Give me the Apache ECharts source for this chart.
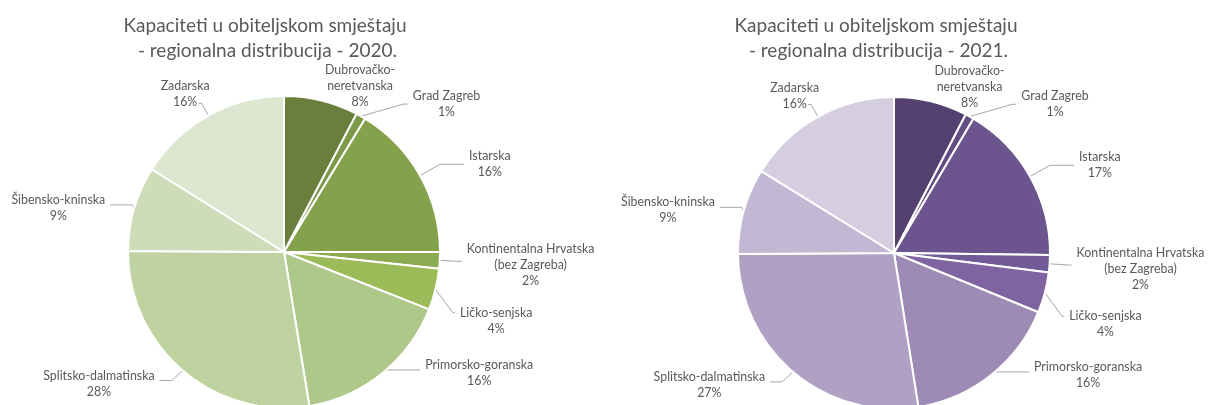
<!DOCTYPE html>
<html>
<head>
<meta charset="utf-8">
<script src="https://cdn.jsdelivr.net/npm/echarts@6/dist/echarts.min.js"></script>
<style>
html,body{margin:0;padding:0;background:#fff;}
#chart{width:1208px;height:405px;}
</style>
</head>
<body>
<div id="chart"></div>
<script>
const categories = [
  'Dubrovačko-\nneretvanska',
  'Grad Zagreb',
  'Istarska',
  'Kontinentalna Hrvatska\n(bez Zagreba)',
  'Ličko-senjska',
  'Primorsko-goranska',
  'Splitsko-dalmatinska',
  'Šibensko-kninska',
  'Zadarska'
];
const values2020 = [7.7, 1.0, 16.3, 1.7, 4.3, 16.4, 27.7, 8.8, 16.1];
const values2021 = [7.6, 0.9, 16.7, 1.8, 4.2, 16.3, 27.4, 8.9, 16.2];
const title2020 = 'Kapaciteti u obiteljskom smještaju\n - regionalna distribucija - 2020.';
const title2021 = 'Kapaciteti u obiteljskom smještaju\n - regionalna distribucija - 2021.';
const greens = ['#6a7f3b', '#7c9947', '#84a24c', '#8cab50', '#9bbb59', '#aec88a', '#bed3a0', '#cfdcba', '#dde6cf'];
const purples = ['#54416f', '#634d84', '#6c558e', '#735a98', '#8064a2', '#9d8ab5', '#b0a1c4', '#c3b8d3', '#d5cee0'];

const FONT = 'Lato';
const LABEL_SIZE = 12.4;
// leader-line lengths and small label nudges (per label, same for both pies)
const LABEL_CFG = [
  { len: 15, len2: 0,  dx: -5, dy: 0,  lineDy: 0,  elbowDx: 0,  line: false },
  { len: 14, len2: 40, dx: 0,  dy: 0,  lineDy: 0,  elbowDx: 36, line: true },
  { len: 23, len2: 24, dx: 0,  dy: 0,  lineDy: 0,  elbowDx: 0,  line: true },
  { len: 18, len2: 4,  dx: 0,  dy: 4,  lineDy: 0,  elbowDx: 0,  line: true },
  { len: 18, len2: 2,  dx: 0,  dy: 27, lineDy: 19, elbowDx: 0,  line: true },
  { len: 2,  len2: 37, dx: 0,  dy: -2, lineDy: -5, elbowDx: 0,  line: true },
  { len: 17, len2: 12, dx: 0,  dy: 0,  lineDy: -3, elbowDx: 0,  line: true },
  { len: 2,  len2: 22, dx: 0,  dy: 0,  lineDy: -3, elbowDx: 0,  line: true },
  { len: 14, len2: 3,  dx: 16, dy: -9, lineDy: 0,  elbowDx: 0,  line: true }
];

function mkData(vals, cols) {
  return categories.map((c, i) => ({
    name: c,
    value: vals[i],
    itemStyle: { color: cols[i] },
    labelLine: { show: LABEL_CFG[i].line, length: LABEL_CFG[i].len, length2: LABEL_CFG[i].len2 }
  }));
}
function labelLayout(p) {
  const cfg = LABEL_CFG[p.dataIndex];
  const out = { dx: cfg.dx, dy: cfg.dy };
  if (p.labelLinePoints && (cfg.lineDy || cfg.elbowDx)) {
    const pts = p.labelLinePoints.map(q => q.slice());
    pts[1][1] += cfg.lineDy;
    pts[2][1] += cfg.lineDy;
    pts[1][0] += cfg.elbowDx;
    out.labelLinePoints = pts;
  }
  return out;
}
function mkSeries(vals, cols, center) {
  return {
    type: 'pie',
    center: center,
    radius: 156,
    startAngle: 90,
    clockwise: true,
    percentPrecision: 0,
    avoidLabelOverlap: false,
    itemStyle: { borderColor: '#ffffff', borderWidth: 2 },
    label: {
      show: true,
      position: 'outside',
      overflow: 'none',
      distanceToLabelLine: 5,
      formatter: '{c|{b}}\n{c|{d}%}',
      color: '#595959',
      fontFamily: FONT,
      fontSize: LABEL_SIZE,
      lineHeight: 16,
      rich: { c: { align: 'center', color: '#595959', fontFamily: FONT, fontSize: LABEL_SIZE, lineHeight: 16 } }
    },
    labelLine: { show: true, lineStyle: { color: '#a6a6a6', width: 1 } },
    labelLayout: labelLayout,
    emphasis: { disabled: true },
    animation: false,
    data: mkData(vals, cols)
  };
}
const titleStyle = { fontFamily: FONT, fontSize: 19, fontWeight: 'normal', color: '#595959', lineHeight: 25 };
const chart = echarts.init(document.getElementById('chart'), null, { renderer: 'canvas' });
chart.setOption({
  backgroundColor: '#ffffff',
  animation: false,
  title: [
    { text: title2020, left: 260, top: 8, textAlign: 'center', textStyle: titleStyle },
    { text: title2021, left: 871, top: 8, textAlign: 'center', textStyle: titleStyle }
  ],
  series: [
    mkSeries(values2020, greens, [284, 252]),
    mkSeries(values2021, purples, [894, 253])
  ]
});
</script>
</body>
</html>
